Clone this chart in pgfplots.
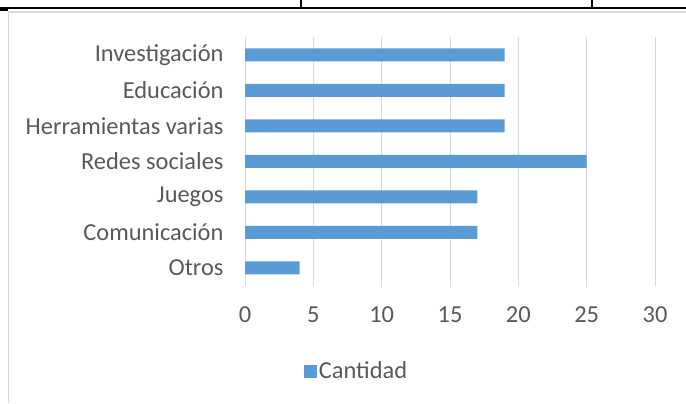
\documentclass[border=0pt]{standalone}
\usepackage{pgfplots}
\pgfplotsset{compat=1.18}
\usepackage{fontspec}
\setmainfont{Carlito}
\definecolor{barblue}{HTML}{5B9BD5}
\definecolor{txtgray}{HTML}{595959}
\definecolor{gridgray}{HTML}{D9D9D9}
\begin{document}
\begin{tikzpicture}[x=1bp,y=1bp]
\useasboundingbox (0,0) rectangle (686,403);
\draw[gridgray, line width=1.5bp] (8.5,0) -- (8.5,391) -- (686,391);
\draw[black, line width=1.5bp] (0,395) -- (686,395);
\draw[black, line width=1.5bp] (0,393) -- (8,393);
\draw[black, line width=1.5bp] (301,403) -- (301,395);
\draw[black, line width=1.5bp] (592,403) -- (592,395);
\begin{axis}[
  at={(245bp,117.5bp)}, anchor=south west,
  scale only axis, width=410bp, height=248.5bp,
  xbar, bar width=13bp,
  xmin=0, xmax=30, ymin=-0.5, ymax=6.5,
  ytick={0,...,6},
  yticklabels={Otros,Comunicación,Juegos,Redes sociales,Herramientas varias,Educación,Investigación},
  xtick={0,5,...,30},
  /pgf/number format/assume math mode=true,
  xmajorgrids, grid style={gridgray, line width=1bp},
  axis line style={draw=none},
  major tick length=0pt,
  tick label style={font=\fontsize{24.5}{26}\selectfont, text=txtgray},
  xticklabel style={yshift=-18bp},
  yticklabel style={xshift=-18bp},
  legend style={at={(axis description cs:0.272,-0.345)}, anchor=center, draw=none, fill=none,
    font=\fontsize{24.5}{26}\selectfont, text=txtgray},
  legend image code/.code={\fill[barblue] (0bp,-6.5bp) rectangle (13bp,6.5bp);},
]
\addplot[fill=barblue, draw=none] coordinates {
  (4,0) (17,1) (17,2) (25,3) (19,4) (19,5) (19,6)
};
\addlegendentry{Cantidad}
\end{axis}
\end{tikzpicture}
\end{document}
